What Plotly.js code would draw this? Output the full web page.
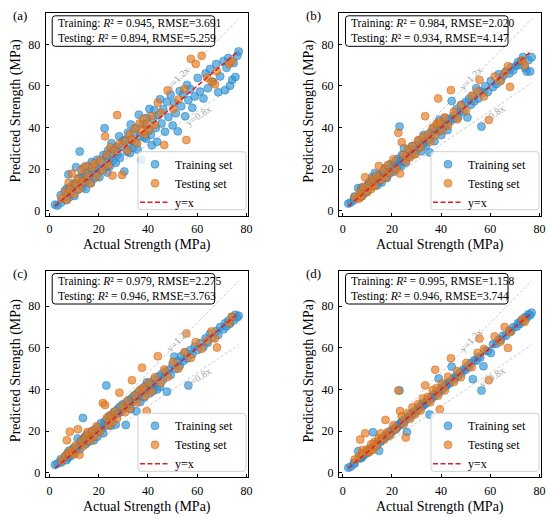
<!DOCTYPE html>
<html><head><meta charset="utf-8">
<script src="https://cdn.plot.ly/plotly-3.0.1.min.js"></script>
<style>body{margin:0;padding:0;background:#fff}#chart{width:550px;height:518px}</style>
</head><body><div id="chart"></div>
<script>
// Shared actual values (same samples in all four models)
const trainActual = [2.3,3.3,4.6,4.8,6.3,6.9,7.3,7.5,7.7,8.0,
8.5,9.0,9.7,10.2,10.4,10.8,11.5,11.9,12.3,12.6,
13.1,13.4,13.6,14.0,14.5,14.8,15.1,15.4,15.8,16.3,
16.9,17.2,17.5,18.0,18.4,19.0,19.4,19.7,20.3,20.9,
21.5,21.9,22.4,22.8,23.1,23.5,23.8,24.1,24.4,24.9,
25.2,25.7,26.1,26.9,27.2,27.7,28.3,28.6,29.2,29.9,
30.4,31.0,31.4,31.9,32.3,32.7,33.0,33.4,33.8,34.4,
35.0,35.3,35.8,36.3,36.9,37.3,37.9,38.5,39.0,39.3,
39.6,40.1,40.6,41.2,41.6,42.1,42.6,43.2,43.7,44.3,
44.9,45.5,46.2,46.9,47.7,48.3,49.2,50.0,50.7,51.3,
52.1,52.9,53.5,54.3,55.1,55.9,56.4,57.2,58.0,59.0,
60.2,61.1,62.5,63.4,64.3,65.2,66.4,67.7,68.5,69.3,
70.7,71.3,71.9,72.6,73.3,74.2,74.8,75.5,76.2,76.8];
const testActual = [4.9,6.5,7.1,7.8,8.3,9.1,9.9,10.7,11.6,12.2,
13.0,13.8,14.7,15.5,16.6,17.4,18.3,19.2,20.6,21.7,
22.6,23.3,24.0,24.8,25.6,26.5,27.5,28.4,29.5,30.7,
31.7,32.6,33.5,34.6,35.6,36.6,37.6,38.2,38.8,39.5,
40.4,41.5,42.8,44.0,45.2,46.6,48.0,50.2,52.4,54.8,
55.6,57.4,59.4,61.8,64.0,65.8,67.2,68.0,73.0,74.0];

// Panel (a)
const predTrainA = [3.0,2.6,7.5,4.0,9.8,5.2,11.0,8.3,17.5,6.5,
11.4,9.0,13.2,7.2,12.8,21.0,10.1,15.6,28.5,13.0,
17.4,11.2,16.0,20.8,13.9,10.5,18.2,15.0,21.6,17.1,
13.4,23.5,18.8,15.6,21.0,17.8,24.6,20.1,16.2,23.4,
19.6,26.8,39.7,21.0,26.2,18.4,29.0,24.6,21.3,28.1,
32.5,24.0,29.4,23.1,30.6,27.0,35.8,25.5,30.9,33.7,
18.9,34.2,28.4,37.6,31.0,27.8,41.5,34.1,30.2,37.6,
33.0,39.8,29.5,46.2,36.0,24.5,42.0,35.3,40.9,34.6,
44.7,38.4,49.0,36.6,31.5,44.2,48.3,39.8,33.2,46.0,
53.6,42.0,48.8,38.0,52.4,45.1,55.8,41.0,52.0,46.9,
38.2,57.6,50.3,55.9,45.4,60.5,53.2,58.4,49.5,55.0,
63.8,57.3,54.0,66.0,58.9,68.2,62.0,70.5,57.0,64.6,
72.0,58.0,68.7,73.4,60.1,62.9,71.0,64.3,74.5,76.6];
const predTestA = [6.0,9.0,5.3,13.5,10.2,17.8,8.1,12.9,15.4,10.6,
19.7,14.1,21.5,17.0,13.2,20.9,22.8,16.6,24.2,19.5,
35.8,27.0,22.1,30.6,17.0,28.8,46.0,32.1,17.3,33.5,
29.0,36.7,34.2,39.5,32.5,42.0,38.4,44.3,36.8,41.8,
39.0,45.6,41.3,52.0,47.1,31.7,57.9,49.0,53.5,58.5,
34.0,73.0,70.6,74.5,64.0,62.0,60.8,67.0,70.6,72.0];

// Panel (b)
const predTrainB = [3.5,4.0,5.2,6.9,11.0,6.5,8.2,10.9,7.0,9.4,
8.1,11.3,9.1,12.5,10.0,13.9,11.8,16.2,12.0,14.7,
18.2,13.0,15.3,12.2,16.8,14.1,17.5,15.9,13.6,18.0,
16.4,20.6,17.1,15.8,19.9,18.4,22.5,19.2,21.8,18.9,
23.9,21.2,25.0,22.0,40.5,24.3,21.6,26.9,24.0,30.1,
25.5,23.2,27.4,26.1,29.3,27.0,31.2,28.0,27.5,31.6,
29.6,33.9,30.8,28.6,33.2,32.0,36.5,33.1,31.2,35.5,
34.0,28.1,37.9,36.0,39.8,33.5,38.6,41.5,38.2,43.8,
39.0,36.4,41.9,40.3,44.6,41.0,38.8,44.0,43.1,52.8,
45.6,44.2,48.9,45.0,47.9,51.0,47.6,52.3,44.9,53.8,
51.0,55.2,52.6,58.9,54.0,57.4,40.5,56.8,59.9,57.1,
62.4,59.5,61.0,65.6,62.7,64.8,67.1,66.0,68.9,67.5,
69.8,71.5,70.2,72.0,73.9,68.6,66.9,72.4,67.0,73.8];
const predTestB = [6.5,5.8,9.2,7.0,11.6,16.2,9.0,12.4,10.5,15.3,
12.1,17.0,21.6,15.0,19.4,16.1,22.0,18.2,24.8,20.3,
37.5,18.0,33.0,26.9,23.9,29.7,25.8,31.0,27.2,33.8,
30.5,35.4,45.5,36.7,33.2,40.0,36.3,41.9,54.0,42.7,
38.6,44.9,41.0,58.0,47.5,44.0,50.8,48.1,55.3,57.4,
62.9,55.0,43.7,64.5,62.3,66.2,69.5,59.6,72.2,69.8];

// Panel (c)
const predTrainC = [3.9,4.5,6.6,5.0,7.9,6.1,9.5,7.2,8.8,10.6,
8.0,10.1,11.9,9.4,12.2,11.0,16.5,12.8,11.1,14.9,
13.6,16.0,26.4,14.8,17.6,13.9,16.3,18.7,15.0,17.9,
16.5,20.0,18.1,15.6,20.8,19.4,17.3,21.9,20.0,23.8,
21.4,19.0,24.5,23.1,42.0,25.6,23.0,27.2,25.0,22.6,
27.9,26.3,29.0,23.2,28.2,30.5,28.9,31.8,29.6,32.9,
31.0,23.0,33.8,32.2,35.0,33.1,30.6,35.8,34.4,37.1,
35.6,29.6,38.5,36.9,34.0,40.2,38.4,36.2,41.6,39.8,
43.5,40.7,38.1,43.0,41.9,39.4,44.9,42.8,40.0,46.3,
41.2,47.4,44.8,48.6,39.0,49.4,47.0,52.0,55.8,49.9,
53.6,51.4,56.0,53.7,57.8,54.9,42.0,58.9,57.0,60.7,
59.1,62.2,60.4,64.6,62.5,66.8,65.0,68.1,66.3,70.0,
68.9,71.8,70.4,73.0,71.6,74.8,73.2,75.9,74.6,75.4];
const predTestC = [5.8,8.1,15.7,9.6,19.8,10.9,8.9,13.2,21.0,8.7,
15.3,12.9,17.2,19.6,15.4,20.1,17.5,22.4,19.8,33.5,
32.6,26.4,22.8,27.6,24.3,29.5,26.2,38.5,31.9,29.1,
34.5,31.0,44.5,37.2,33.8,39.6,50.5,41.0,36.9,29.6,
43.3,39.0,45.9,56.0,43.1,49.6,46.0,53.2,50.1,57.9,
66.9,55.2,62.8,59.6,63.4,67.9,64.5,60.2,72.0,75.0];

// Panel (d)
const predTrainD = [2.5,3.0,4.9,4.4,10.4,7.1,7.0,7.9,7.4,8.6,
8.3,9.5,9.4,10.6,10.1,11.5,11.2,12.4,19.5,12.9,
13.5,13.0,14.2,13.7,14.9,10.6,15.6,15.0,16.3,16.0,
17.4,16.8,18.1,17.6,18.9,18.6,19.9,19.3,20.8,20.5,
22.1,21.5,22.9,22.5,39.6,23.9,23.4,24.7,24.1,25.5,
24.8,26.2,19.6,27.3,26.8,28.3,27.9,29.1,28.8,30.4,
30.0,31.5,31.0,32.5,31.9,33.3,32.6,34.0,33.3,35.0,
34.6,28.0,36.3,35.9,37.5,36.8,38.5,38.0,45.3,39.8,
39.1,40.7,40.2,41.8,41.1,42.7,42.2,43.8,43.2,51.0,
45.4,45.0,46.8,46.4,48.3,47.8,49.8,49.5,51.3,50.8,
52.7,45.0,54.1,53.8,55.7,55.4,39.5,51.2,58.6,58.5,
57.5,61.7,62.0,64.0,63.8,65.8,65.9,68.3,68.0,69.9,
70.2,71.9,71.4,73.2,72.8,74.8,74.3,76.1,75.7,76.9];
const predTestD = [6.4,7.8,16.0,10.9,9.3,19.0,11.2,9.9,13.8,11.0,
14.9,13.0,16.8,18.9,16.0,25.4,19.6,18.0,22.9,21.0,
39.5,29.7,27.1,23.3,17.0,28.6,26.0,31.5,28.2,33.0,
29.9,35.7,42.0,36.5,33.9,39.8,49.5,40.8,37.0,30.5,
43.0,39.6,46.2,55.0,43.6,48.9,45.9,52.8,50.7,57.6,
64.5,59.5,44.5,65.5,62.9,70.0,60.0,67.5,73.8,72.5];

const panelLabels = ['(a)','(b)','(c)','(d)'];
const trainR2 = ['0.945','0.984','0.979','0.995'];
const trainRMSE = ['3.691','2.020','2.275','1.158'];
const testR2 = ['0.894','0.934','0.946','0.946'];
const testRMSE = ['5.259','4.147','3.763','3.744'];
const tickVals = [0,20,40,60,80];
const legendNames = ['Training set','Testing set','y=x'];
const lineLabels = ['y=1.2x','y=0.8x'];

const predTrain = [predTrainA, predTrainB, predTrainC, predTrainD];
const predTest = [predTestA, predTestB, predTestC, predTestD];

const FONT = 'Liberation Serif, Times New Roman, serif';
const W = 550, H = 518;
const px = v => v / W;
const py = v => 1 - v / H;

// panel geometry (pixels)
const geo = [
  {l:45.7, r:248.0, t:13.3, b:215.7, yr:[-2.3,94.9]},
  {l:339.0, r:541.0, t:13.3, b:215.7, yr:[-2.3,94.9]},
  {l:45.7, r:248.0, t:271.0, b:477.3, yr:[-2.1,96.9]},
  {l:339.0, r:541.0, t:271.0, b:477.3, yr:[-2.1,96.9]}
];

// rounded-rectangle path in pixel coordinates -> paper coordinates
function roundRect(l, t, r, b, rad) {
  const P = (x, y) => px(x) + ',' + py(y);
  return 'M' + P(l + rad, t) + ' L' + P(r - rad, t) + ' Q' + P(r, t) + ' ' + P(r, t + rad) +
    ' L' + P(r, b - rad) + ' Q' + P(r, b) + ' ' + P(r - rad, b) +
    ' L' + P(l + rad, b) + ' Q' + P(l, b) + ' ' + P(l, b - rad) +
    ' L' + P(l, t + rad) + ' Q' + P(l, t) + ' ' + P(l + rad, t) + ' Z';
}

const xmin = Math.min(...trainActual), xmax = Math.max(...trainActual);
const lineX = [xmin, xmax];

const data = [];
const layout = {
  width: W, height: H,
  margin: {l:0, r:0, t:0, b:0},
  paper_bgcolor: '#fff', plot_bgcolor: '#fff',
  font: {family: FONT, color: '#000'},
  annotations: [],
  shapes: [],
  showlegend: true
};

const BLUE = 'rgba(52,152,219,0.68)';
const BLUE_E = 'rgba(41,128,185,0.55)';
const ORANGE = 'rgba(230,126,34,0.68)';
const ORANGE_E = 'rgba(211,84,0,0.45)';

for (let i = 0; i < 4; i++) {
  const g = geo[i];
  const s = i === 0 ? '' : String(i + 1);
  const xa = 'x' + s, ya = 'y' + s;
  const lg = i === 0 ? 'legend' : 'legend' + (i + 1);

  data.push({x: lineX, y: lineX.map(v => 1.2 * v), xaxis: xa, yaxis: ya, mode: 'lines',
    line: {color: '#bdbdbd', width: 0.8, dash: '3px,2px'}, showlegend: false, hoverinfo: 'skip'});
  data.push({x: lineX, y: lineX.map(v => 0.8 * v), xaxis: xa, yaxis: ya, mode: 'lines',
    line: {color: '#bdbdbd', width: 0.8, dash: '3px,2px'}, showlegend: false, hoverinfo: 'skip'});
  data.push({x: trainActual, y: predTrain[i], xaxis: xa, yaxis: ya, mode: 'markers', name: legendNames[0],
    legend: lg, marker: {color: BLUE, size: 8, line: {color: BLUE_E, width: 1}}});
  data.push({x: testActual, y: predTest[i], xaxis: xa, yaxis: ya, mode: 'markers', name: legendNames[1],
    legend: lg, marker: {color: ORANGE, size: 8, line: {color: ORANGE_E, width: 1}}});
  data.push({x: lineX, y: lineX, xaxis: xa, yaxis: ya, mode: 'lines', name: legendNames[2],
    legend: lg, line: {color: '#dc1e28', width: 1.5, dash: '5px,2.5px'}});

  const axCommon = {
    showgrid: false, zeroline: false, showline: true, mirror: true,
    linecolor: '#000', linewidth: 1, ticks: 'inside', ticklen: 3, tickwidth: 1, tickcolor: '#000',
    tickvals: tickVals, tickfont: {family: FONT, size: 12, color: '#000'}
  };
  layout['xaxis' + s] = Object.assign({}, axCommon, {
    domain: [px(g.l), px(g.r)], range: [-1.5, 80.6], anchor: ya, ticklabelstandoff: 2
  });
  layout['yaxis' + s] = Object.assign({}, axCommon, {
    domain: [py(g.b), py(g.t)], range: g.yr, anchor: xa, ticklabelstandoff: 2
  });

  // legend frame (rounded, semi-transparent) drawn as shape above the markers
  layout.shapes.push({type: 'path', xref: 'paper', yref: 'paper', layer: 'above',
    path: roundRect(g.r - 110, g.b - 64, g.r - 2, g.b - 6, 3),
    fillcolor: 'rgba(255,255,255,0.8)', line: {color: '#d0d0d0', width: 1}});
  layout[lg] = {
    x: px(g.r - 113), y: py(g.b - 66), xanchor: 'left', yanchor: 'top',
    bgcolor: 'rgba(0,0,0,0)', borderwidth: 0,
    font: {family: FONT, size: 12, color: '#000'}, tracegroupgap: 0, itemwidth: 30
  };

  // metrics box: rounded frame + two-line text
  layout.shapes.push({type: 'path', xref: 'paper', yref: 'paper', layer: 'above',
    path: roundRect(g.l + 6.5, g.t + 2.5, g.l + 169, g.t + 33, 3),
    fillcolor: '#ffffff', line: {color: '#000', width: 1}});
  const R2 = '<span style="font-style:italic;font-size:11.5px">R</span>\u00B2';
  layout.annotations.push({xref: 'paper', yref: 'paper', x: px(g.l + 10), y: py(g.t + 18),
    text: 'Training: ' + R2 + ' = ' + trainR2[i] + ', RMSE=' + trainRMSE[i] +
          '<br>Testing: ' + R2 + ' = ' + testR2[i] + ', RMSE=' + testRMSE[i],
    showarrow: false, xanchor: 'left', yanchor: 'middle', align: 'left',
    font: {family: FONT, size: 11.5, color: '#000'}});

  // axis titles
  layout.annotations.push({xref: 'paper', yref: 'paper', x: px((g.l + g.r) / 2), y: py(g.b + 29.5),
    text: 'Actual Strength (MPa)', showarrow: false, xanchor: 'center', yanchor: 'middle',
    font: {family: FONT, size: 14, color: '#000'}});
  layout.annotations.push({xref: 'paper', yref: 'paper', x: px(g.l - 29.7), y: py((g.t + g.b) / 2 - 3),
    text: 'Predicted Strength (MPa)', showarrow: false, textangle: -90, xanchor: 'center', yanchor: 'middle',
    font: {family: FONT, size: 14, color: '#000'}});
  // panel label
  layout.annotations.push({xref: 'paper', yref: 'paper', x: px(g.l - 35), y: py(g.t + 2),
    text: panelLabels[i], showarrow: false, xanchor: 'left', yanchor: 'middle',
    font: {family: FONT, size: 13, color: '#000'}});
  // line labels
  layout.annotations.push({xref: xa, yref: ya, x: 52, y: 63.5, text: lineLabels[0], showarrow: false,
    textangle: -45, font: {family: FONT, size: 10, color: '#a8a8a8'}});
  layout.annotations.push({xref: xa, yref: ya, x: 60.5, y: 46, text: lineLabels[1], showarrow: false,
    textangle: -34, font: {family: FONT, size: 10, color: '#a8a8a8'}});
}

Plotly.newPlot('chart', data, layout, {displayModeBar: false, staticPlot: true});
</script>
</body></html>
